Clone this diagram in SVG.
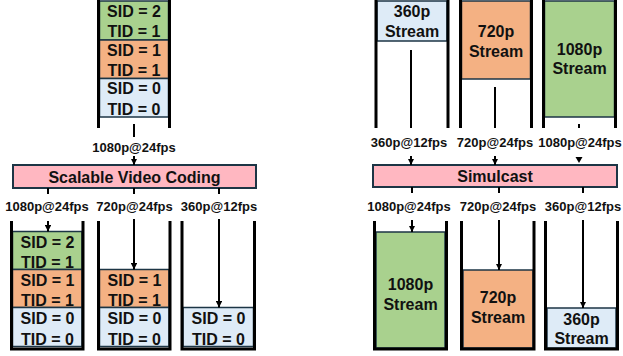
<svg xmlns="http://www.w3.org/2000/svg" width="623" height="356" viewBox="0 0 623 356">
  <style>
    text { font-family: "Liberation Sans", Arial, sans-serif; font-weight: bold; fill: #111; text-anchor: middle; }
    .box { font-size: 16px; }
    .lbl { font-size: 13px; }
    .title { font-size: 16px; }
    .wall { stroke: #000; stroke-width: 3; fill: none; }
    .g { fill: #A9D18E; stroke: #1C3545; stroke-width: 1.5; }
    .o { fill: #F4B183; stroke: #1C3545; stroke-width: 1.5; }
    .b { fill: #DEEBF7; stroke: #1C3545; stroke-width: 1.5; }
    .p { fill: #FFB7C1; stroke: #1C3545; stroke-width: 2; }
    .ln { stroke: #000; stroke-width: 2; fill: none; }
    .arr { stroke: #000; stroke-width: 2; fill: none; marker-end: url(#ah); }
  </style>
  <defs>
    <marker id="ah" viewBox="0 0 6 6" refX="6" refY="3" markerWidth="3.2" markerHeight="3.2" markerUnits="strokeWidth" orient="auto">
      <path d="M0,0 L6,3 L0,6 Z" fill="#000"/>
    </marker>
  </defs>

  <!-- Scalable Video Coding: source layer stack -->
  <g id="svc-source">
    <rect class="g" x="99.5" y="1" width="69" height="39"/>
    <rect class="o" x="99.5" y="40" width="69" height="38.5"/>
    <rect class="b" x="99.5" y="78.5" width="69" height="38.5"/>
    <text class="box" x="134" y="17">SID = 2</text>
    <text class="box" x="134" y="37">TID = 1</text>
    <text class="box" x="134" y="55.5">SID = 1</text>
    <text class="box" x="134" y="75.5">TID = 1</text>
    <text class="box" x="134" y="94">SID = 0</text>
    <text class="box" x="134" y="114.5">TID = 0</text>
    <path class="wall" d="M98.5,0 V128 M169.5,0 V128"/>
  </g>

  <g id="svc-coder">
    <rect class="p" x="13" y="165" width="243" height="23"/>
    <text class="title" x="134.5" y="182.5">Scalable Video Coding</text>
  </g>

  <!-- SVC receivers -->
  <g id="svc-out-1080">
    <rect class="g" x="12.5" y="231.5" width="69.5" height="38"/>
    <rect class="o" x="12.5" y="269.5" width="69.5" height="38"/>
    <rect class="b" x="12.5" y="307.5" width="69.5" height="39"/>
    <text class="box" x="47.5" y="248">SID = 2</text>
    <text class="box" x="47.5" y="268">TID = 1</text>
    <text class="box" x="47.5" y="286">SID = 1</text>
    <text class="box" x="47.5" y="306">TID = 1</text>
    <text class="box" x="47.5" y="324">SID = 0</text>
    <text class="box" x="47.5" y="344.5">TID = 0</text>
    <path class="wall" d="M11.5,221 V349 H83 V221"/>
  </g>
  <g id="svc-out-720">
    <rect class="o" x="99.5" y="269.5" width="69.5" height="38"/>
    <rect class="b" x="99.5" y="307.5" width="69.5" height="39"/>
    <text class="box" x="134.5" y="286">SID = 1</text>
    <text class="box" x="134.5" y="306">TID = 1</text>
    <text class="box" x="134.5" y="324">SID = 0</text>
    <text class="box" x="134.5" y="344.5">TID = 0</text>
    <path class="wall" d="M98.5,221 V349 H170 V221"/>
  </g>
  <g id="svc-out-360">
    <rect class="b" x="183" y="307.5" width="70.5" height="39"/>
    <text class="box" x="218.5" y="324">SID = 0</text>
    <text class="box" x="218.5" y="344.5">TID = 0</text>
    <path class="wall" d="M182,221 V349 H254.5 V221"/>
  </g>

  <!-- Simulcast: three independent source streams -->
  <g id="sim-source-360">
    <rect class="b" x="377" y="1" width="70" height="40"/>
    <text class="box" x="412" y="17">360p</text>
    <text class="box" x="412" y="37">Stream</text>
    <path class="wall" d="M376,0 V128 M448,0 V128"/>
  </g>
  <g id="sim-source-720">
    <rect class="o" x="461.5" y="1" width="69" height="78"/>
    <text class="box" x="496" y="37">720p</text>
    <text class="box" x="496" y="57">Stream</text>
    <path class="wall" d="M460.5,0 V128 M531.5,0 V128"/>
  </g>
  <g id="sim-source-1080">
    <rect class="g" x="544.5" y="1" width="70" height="116"/>
    <text class="box" x="579.5" y="55">1080p</text>
    <text class="box" x="579.5" y="74">Stream</text>
    <path class="wall" d="M543.5,0 V128 M615.5,0 V128"/>
  </g>

  <g id="simulcast">
    <rect class="p" x="373" y="165" width="244" height="22"/>
    <text class="title" x="495" y="182">Simulcast</text>
  </g>

  <!-- Simulcast receivers -->
  <g id="sim-out-1080">
    <rect class="g" x="376" y="232" width="69" height="116"/>
    <text class="box" x="410.5" y="290">1080p</text>
    <text class="box" x="410.5" y="310">Stream</text>
    <path class="wall" d="M374.5,221 V349 H446.5 V221"/>
  </g>
  <g id="sim-out-720">
    <rect class="o" x="463" y="270" width="70" height="78"/>
    <text class="box" x="498" y="303">720p</text>
    <text class="box" x="498" y="323">Stream</text>
    <path class="wall" d="M461.5,221 V349 H534 V221"/>
  </g>
  <g id="sim-out-360">
    <rect class="b" x="547" y="308" width="69" height="40"/>
    <text class="box" x="581.5" y="325">360p</text>
    <text class="box" x="581.5" y="344">Stream</text>
    <path class="wall" d="M545.5,221 V349 H617.5 V221"/>
  </g>

  <!-- connectors and rate labels -->
  <g id="connectors">
    <!-- SVC input -->
    <path class="ln" d="M134,124 V137"/>
    <text class="lbl" x="134" y="152">1080p@24fps</text>
    <path class="arr" d="M134,156 V165"/>
    <!-- SVC outputs -->
    <path class="ln" d="M48,188 V194 M134,188 V194 M219,188 V194"/>
    <text class="lbl" x="47" y="211">1080p@24fps</text>
    <text class="lbl" x="134.5" y="211">720p@24fps</text>
    <text class="lbl" x="219" y="211">360p@12fps</text>
    <path class="arr" d="M48,221 V231.5"/>
    <path class="arr" d="M134,219 V269.5"/>
    <path class="arr" d="M219,219 V307.5"/>

    <!-- Simulcast inputs -->
    <path class="ln" d="M411,50 V128 M495,87 V128 M579,124 V128"/>
    <text class="lbl" x="409" y="147">360p@12fps</text>
    <text class="lbl" x="495" y="147">720p@24fps</text>
    <text class="lbl" x="580" y="147">1080p@24fps</text>
    <path class="arr" d="M411,156 V165"/>
    <path class="arr" d="M495,156 V165"/>
    <path d="M575.5,157 H582.5 L579,163 Z" fill="#000"/>
    <!-- Simulcast outputs -->
    <path class="ln" d="M412,187 V193 M499,187 V193 M583,187 V193"/>
    <text class="lbl" x="409" y="211">1080p@24fps</text>
    <text class="lbl" x="498" y="211">720p@24fps</text>
    <text class="lbl" x="583" y="211">360p@12fps</text>
    <path class="arr" d="M412,220 V232"/>
    <path class="arr" d="M499,220 V270"/>
    <path class="arr" d="M583,220 V308"/>
  </g>
</svg>
